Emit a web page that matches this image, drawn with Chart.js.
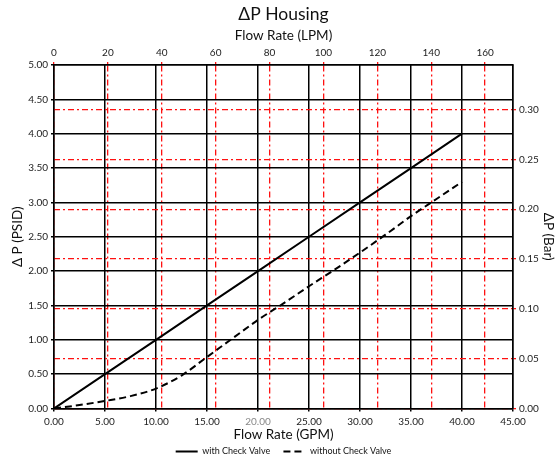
<!DOCTYPE html>
<html>
<head>
<meta charset="utf-8">
<script src="https://cdn.jsdelivr.net/npm/chart.js@4.4.1/dist/chart.umd.min.js"></script>
<style>
  html, body { margin: 0; padding: 0; background: #fff; }
  #wrap { width: 556px; height: 459px; }
</style>
</head>
<body>
<div id="wrap"><canvas id="chart"></canvas></div>
<script>
// flow in GPM, pressure drop in PSID
const flowWith = [0, 5, 10, 15, 20, 25, 30, 35, 40];
const dpWith = [0, 0.5, 1.0, 1.5, 2.0, 2.5, 3.0, 3.5, 4.0];

const flowWithout = [0, 2.5, 5, 7.5, 10, 12.5, 15, 17.5, 20, 22.5, 25, 27.5, 30, 32.5, 35, 37.5, 40];
const dpWithout = [0, 0.05, 0.11, 0.18, 0.29, 0.48, 0.75, 1.02, 1.29, 1.53, 1.78, 2.02, 2.27, 2.53, 2.80, 3.05, 3.30];

const seriesNames = ['with Check Valve', 'without Check Valve'];

// axis ranges
const gpmMax = 45;
const psiMax = 5;
const lpmPerGpm = 3.785411784;
const barPerPsi = 0.0689475729;

const FONT = "Lato, 'Open Sans', sans-serif";
const RED = '#ff1010';
const dashDot = [6, 3, 2, 3];

function toPoints(xs, ys) {
    return xs.map((x, i) => ({ x: x, y: ys[i] }));
}

// pin the box sizes so the plot area lands where the reference has it
function fixWidth(w) { return function (scale) { scale.width = w; }; }
function fixHeight(h) { return function (scale) { scale.height = h; }; }

new Chart(document.getElementById('chart'), {
    type: 'line',
    data: {
        datasets: [
            {
                label: seriesNames[0],
                data: toPoints(flowWith, dpWith),
                borderColor: '#000',
                backgroundColor: '#000',
                borderWidth: 2,
                pointRadius: 0,
                xAxisID: 'x',
                yAxisID: 'y',
            },
            {
                label: seriesNames[1],
                data: toPoints(flowWithout, dpWithout),
                borderColor: '#000',
                backgroundColor: '#000',
                borderWidth: 2,
                borderDash: [7, 4],
                pointRadius: 0,
                cubicInterpolationMode: 'monotone',
                xAxisID: 'x',
                yAxisID: 'y',
            },
        ],
    },
    options: {
        responsive: true,
        maintainAspectRatio: false,
        animation: false,
        layout: { padding: 0 },
        plugins: {
            title: {
                display: true,
                text: 'ΔP Housing',
                fullSize: false,
                color: '#111',
                font: { family: FONT, size: 17.5, weight: 'normal', lineHeight: 1.2 },
                padding: { top: 4, bottom: 0 },
            },
            legend: {
                position: 'bottom',
                fullSize: false,
                labels: {
                    color: '#111',
                    font: { family: FONT, size: 9 },
                    usePointStyle: true,
                    pointStyle: 'line',
                    pointStyleWidth: 22,
                    boxHeight: 8,
                    padding: 4,
                    // point-style legend ignores the dataset dash, so put it back
                    generateLabels: function (chart) {
                        const items = Chart.defaults.plugins.legend.labels.generateLabels(chart);
                        return items.map((item, i) => {
                            item.lineDash = chart.data.datasets[i].borderDash || [];
                            item.lineWidth = 2;
                            item.strokeStyle = '#000';
                            if (i === 0) item.text = item.text + '    ';
                            return item;
                        });
                    },
                },
            },
            tooltip: { enabled: false },
        },
        scales: {
            x: {
                type: 'linear',
                position: 'bottom',
                min: 0,
                max: gpmMax,
                afterFit: fixHeight(34.5),
                ticks: {
                    stepSize: 5,
                    padding: 4,
                    font: { family: FONT, size: 10 },
                    color: ctx => ctx.tick.value === 20 ? '#888' : '#222',
                    callback: v => v.toFixed(2),
                },
                grid: { color: '#000', lineWidth: 1.5, tickLength: 3 },
                border: { color: '#000', width: 1.5 },
                title: {
                    display: true,
                    text: 'Flow Rate (GPM)',
                    color: '#111',
                    font: { family: FONT, size: 13.5 },
                    padding: { top: 0, bottom: 0 },
                },
            },
            x2: {
                type: 'linear',
                position: 'top',
                min: 0,
                max: gpmMax * lpmPerGpm,
                afterFit: fixHeight(40),
                ticks: {
                    stepSize: 20,
                    includeBounds: false,
                    padding: 3,
                    font: { family: FONT, size: 10 },
                    color: '#222',
                },
                grid: { color: RED, lineWidth: 1.3, tickLength: 3, tickColor: RED },
                border: { color: '#000', width: 1.5, dash: dashDot },
                title: {
                    display: true,
                    text: 'Flow Rate (LPM)',
                    color: '#111',
                    font: { family: FONT, size: 13.5 },
                    padding: { top: 3, bottom: 0 },
                },
            },
            y: {
                type: 'linear',
                position: 'left',
                min: 0,
                max: psiMax,
                afterFit: fixWidth(54),
                ticks: {
                    stepSize: 0.5,
                    padding: 3,
                    font: { family: FONT, size: 10 },
                    color: '#222',
                    callback: v => v.toFixed(2),
                },
                grid: { color: '#000', lineWidth: 1.5, tickLength: 3 },
                border: { color: '#000', width: 1.5 },
                title: {
                    display: true,
                    text: 'Δ P (PSID)',
                    color: '#111',
                    font: { family: FONT, size: 13.5 },
                    padding: { top: 10, bottom: 0 },
                },
            },
            y2: {
                type: 'linear',
                position: 'right',
                min: 0,
                max: psiMax * barPerPsi,
                afterFit: fixWidth(43),
                ticks: {
                    stepSize: 0.05,
                    includeBounds: false,
                    padding: 3,
                    font: { family: FONT, size: 10 },
                    color: '#222',
                    callback: v => v.toFixed(2),
                },
                grid: { color: RED, lineWidth: 1.3, tickLength: 3, tickColor: RED },
                border: { color: '#000', width: 1.5, dash: dashDot },
                title: {
                    display: true,
                    text: 'ΔP (Bar)',
                    color: '#111',
                    font: { family: FONT, size: 13.5 },
                    padding: { top: 0, bottom: 0 },
                },
            },
        },
    },
    plugins: [{
        // the legend keeps 10px of empty space under itself; trim most of it
        id: 'tightLegend',
        beforeUpdate(chart) {
            const lg = chart.legend;
            if (lg && !lg._trimmed) {
                const fit = lg.fit;
                lg.fit = function () {
                    fit.call(this);
                    this.height -= 7;
                };
                lg._trimmed = true;
            }
        },
    }],
});
</script>
</body>
</html>
